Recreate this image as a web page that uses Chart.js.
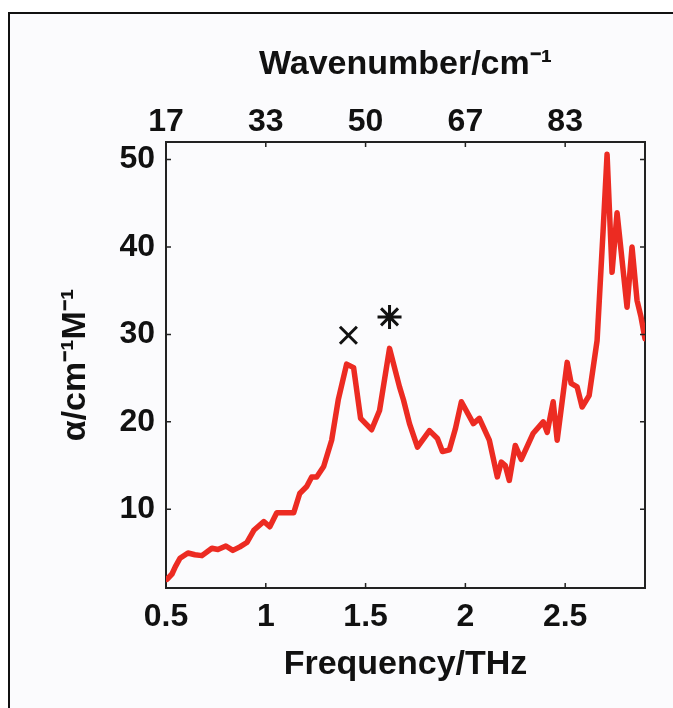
<!DOCTYPE html>
<html>
<head>
<meta charset="utf-8">
<script src="https://cdn.jsdelivr.net/npm/chart.js@4/dist/chart.umd.min.js"></script>
<style>
  html, body { margin: 0; padding: 0; background: #ffffff; overflow: hidden; }
  #frame { position: absolute; left: 8px; top: 12px; width: 700px; height: 720px;
           border: 2px solid #111; background: #fbfbfd; }
  #wrap { position: absolute; left: 0; top: 0; width: 673px; height: 708px; }
</style>
</head>
<body>
<div id="frame"></div>
<div id="wrap"><canvas id="c"></canvas></div>
<script>
// Absorption spectrum: frequency (THz) vs molar absorption coefficient
const freqTHz = [0.505, 0.53, 0.547, 0.57, 0.61, 0.645, 0.68, 0.73, 0.76, 0.80, 0.835, 0.87, 0.905, 0.94, 0.99,
  1.02, 1.055, 1.14, 1.17, 1.205, 1.23, 1.255, 1.29, 1.33, 1.363, 1.405, 1.44, 1.475, 1.53, 1.57, 1.62,
  1.67, 1.69, 1.72, 1.76, 1.82, 1.86, 1.885, 1.92, 1.95, 1.98, 2.04, 2.07, 2.12, 2.16, 2.18, 2.20, 2.22,
  2.25, 2.28, 2.34, 2.39, 2.41, 2.44, 2.46, 2.51, 2.53, 2.56, 2.585, 2.62, 2.66, 2.69, 2.71, 2.735, 2.76,
  2.81, 2.835, 2.86, 2.88, 2.9];
const alpha = [2.0, 2.6, 3.45, 4.4, 5.0, 4.8, 4.7, 5.55, 5.4, 5.8, 5.3, 5.7, 6.2, 7.6, 8.6,
  8.0, 9.6, 9.6, 11.8, 12.6, 13.7, 13.7, 14.9, 17.9, 22.5, 26.6, 26.2, 20.4, 19.1, 21.3, 28.4,
  24.0, 22.5, 19.8, 17.1, 19.0, 18.1, 16.6, 16.8, 19.2, 22.3, 19.8, 20.4, 17.9, 13.7, 15.4, 15.0, 13.3,
  17.3, 15.7, 18.7, 20.0, 18.8, 22.3, 17.9, 26.8, 24.4, 24.0, 21.7, 23.0, 29.3, 41.8, 50.6, 37.1, 43.9,
  33.1, 40.0, 33.9, 32.0, 29.5];

// Peak annotations (× and *)
const crossMark = [{ x: 1.414, y: 29.9 }];
const starMark = [{ x: 1.62, y: 32.0 }];

// Axis ticks
const freqTicks = [0.5, 1, 1.5, 2, 2.5];
const freqTickLabels = ['0.5', '1', '1.5', '2', '2.5'];
const wavenumberTickLabels = ['17', '33', '50', '67', '83'];
const alphaTicks = [10, 20, 30, 40, 50];
const alphaTickLabels = ['10', '20', '30', '40', '50'];

const FONT = "'Liberation Sans', Arial, Helvetica, sans-serif";
const INK = '#111';
const AXIS = '#222';

const points = freqTHz.map((f, i) => ({ x: f, y: alpha[i] }));

// short tick marks pointing into the plot box on all four sides
const innerTicks = {
  id: 'innerTicks',
  afterDraw(chart) {
    const { ctx, chartArea: a, scales } = chart;
    const L = 5;
    ctx.save();
    ctx.strokeStyle = AXIS;
    ctx.lineWidth = 1.5;
    ctx.beginPath();
    scales.x.ticks.forEach(t => {
      const px = scales.x.getPixelForValue(t.value);
      ctx.moveTo(px, a.bottom); ctx.lineTo(px, a.bottom - L);
      ctx.moveTo(px, a.top); ctx.lineTo(px, a.top + L);
    });
    scales.y.ticks.forEach(t => {
      const py = scales.y.getPixelForValue(t.value);
      ctx.moveTo(a.left, py); ctx.lineTo(a.left + L, py);
      ctx.moveTo(a.right, py); ctx.lineTo(a.right - L, py);
    });
    ctx.stroke();
    ctx.restore();
  }
};

const setTicks = vals => scale => { scale.ticks = vals.map(v => ({ value: v })); };
const tickFont = { family: FONT, size: 32, weight: 'bold', lineHeight: 1 };
const titleFont = { family: FONT, size: 34, weight: 'bold', lineHeight: 1.2 };

new Chart(document.getElementById('c'), {
  type: 'scatter',
  data: {
    datasets: [
      {
        data: points,
        showLine: true,
        borderColor: '#ec2b22',
        borderWidth: 5.5,
        pointRadius: 0,
        tension: 0,
        borderJoinStyle: 'round',
        borderCapStyle: 'round'
      },
      {
        data: crossMark,
        pointStyle: 'crossRot',
        pointRadius: 12,
        borderColor: INK,
        borderWidth: 3
      },
      {
        data: starMark,
        pointStyle: 'star',
        pointRadius: 12,
        borderColor: INK,
        borderWidth: 3
      }
    ]
  },
  options: {
    responsive: true,
    maintainAspectRatio: false,
    animation: false,
    layout: { padding: { left: 0, right: 28, top: 0, bottom: 0 } },
    plugins: { legend: { display: false }, tooltip: { enabled: false } },
    scales: {
      x: {
        type: 'linear', position: 'bottom', min: 0.5, max: 2.9,
        afterBuildTicks: setTicks(freqTicks),
        afterFit: s => { s.height = 120; },
        grid: { display: false, drawTicks: false },
        border: { display: true, color: AXIS, width: 2 },
        ticks: {
          padding: 13, color: INK, maxRotation: 0, autoSkip: false,
          font: tickFont,
          callback: (v, i) => freqTickLabels[i]
        },
        title: {
          display: true, text: 'Frequency/THz', color: INK,
          padding: { top: 0, bottom: 23 },
          font: titleFont
        }
      },
      x2: {
        type: 'linear', position: 'top', min: 0.5, max: 2.9,
        afterBuildTicks: setTicks(freqTicks),
        afterFit: s => { s.height = 142; },
        grid: { display: false, drawTicks: false },
        border: { display: true, color: AXIS, width: 2 },
        ticks: {
          padding: 4, color: INK, maxRotation: 0, autoSkip: false,
          font: tickFont,
          callback: (v, i) => wavenumberTickLabels[i]
        },
        title: {
          display: true, text: 'Wavenumber/cm⁻¹', color: INK,
          padding: { top: 44, bottom: 0 },
          font: titleFont
        }
      },
      y: {
        type: 'linear', position: 'left', min: 1, max: 52,
        afterBuildTicks: setTicks(alphaTicks),
        afterFit: s => { s.width = 166; },
        grid: { display: false, drawTicks: false },
        border: { display: true, color: AXIS, width: 2 },
        ticks: {
          padding: 11, color: INK, autoSkip: false,
          font: tickFont,
          callback: (v, i) => alphaTickLabels[i]
        },
        title: {
          display: true, text: 'α/cm⁻¹M⁻¹', color: INK,
          padding: { top: 55, bottom: 0 },
          font: titleFont
        }
      },
      y2: {
        type: 'linear', position: 'right', min: 1, max: 52,
        afterFit: s => { s.width = 0; },
        grid: { display: false, drawTicks: false },
        border: { display: true, color: AXIS, width: 2 },
        ticks: { display: false }
      }
    }
  },
  plugins: [innerTicks]
});
</script>
</body>
</html>
